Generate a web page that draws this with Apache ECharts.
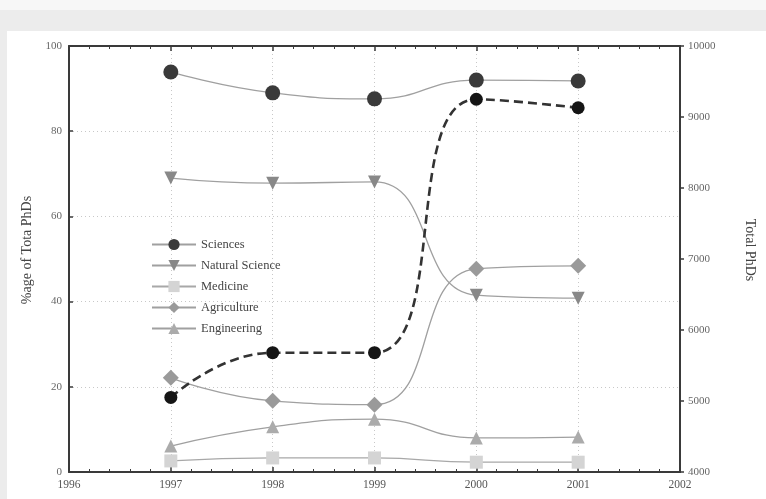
<!DOCTYPE html>
<html>
<head>
<meta charset="utf-8">
<script src="https://cdn.jsdelivr.net/npm/echarts@6/dist/echarts.min.js"></script>
<style>
html,body{margin:0;padding:0;background:#ececec;}
#chart{width:766px;height:499px;}
</style>
</head>
<body>
<div id="chart"></div>
<script>
var years = [1997, 1998, 1999, 2000, 2001];
var sciences = [93.9, 89.0, 87.6, 92.0, 91.8];
var naturalScience = [69.0, 67.8, 68.1, 41.5, 40.8];
var medicine = [2.6, 3.3, 3.3, 2.3, 2.3];
var agriculture = [22.1, 16.7, 15.8, 47.7, 48.4];
var engineering = [6.1, 10.6, 12.4, 8.0, 8.2];
var totalPhDs = [5050, 5680, 5680, 9250, 9130];
var xTicks = [1996, 1997, 1998, 1999, 2000, 2001, 2002];
var leftTicks = [0, 20, 40, 60, 80, 100];
var rightTicks = [4000, 5000, 6000, 7000, 8000, 9000, 10000];

function pairs(vals){ return years.map(function(y,i){ return [y, vals[i]]; }); }

var FONT = "'Liberation Serif','DejaVu Serif',serif";
var AXC = '#3a3a3a';
var chart = echarts.init(document.getElementById('chart'), null, {renderer:'canvas'});

var gridSplit = {show:true, lineStyle:{color:'#c8c8c8', type:[1,3], width:1}};
var plain = function(v){ return String(v); };

var option = {
  backgroundColor: '#ececec',
  animation: false,
  graphic: [
    {type:'rect', shape:{x:0,y:0,width:766,height:10}, style:{fill:'#f7f7f7'}, z:-10},
    {type:'rect', shape:{x:7,y:31,width:759,height:468}, style:{fill:'#ffffff'}, z:-10}
  ],
  grid: {left:69, right:86, top:46, bottom:27, containLabel:false},
  legend: {
    orient:'vertical', left:146, top:233, itemWidth:44, itemHeight:14, itemGap:8,
    data:['Sciences','Natural Science','Medicine','Agriculture','Engineering'],
    textStyle:{fontFamily:FONT, fontSize:12.5, color:'#444'}
  },
  xAxis: [
    {type:'value', min:xTicks[0], max:xTicks[xTicks.length-1], interval:1, position:'bottom',
     axisLine:{lineStyle:{color:AXC, width:2}},
     axisTick:{inside:true, length:5, lineStyle:{color:AXC, width:1.5}},
     minorTick:{show:true, splitNumber:5, length:3, lineStyle:{color:AXC}},
     axisLabel:{fontFamily:FONT, fontSize:11.5, color:'#555', margin:7, formatter:plain},
     splitLine:gridSplit},
    {type:'value', min:xTicks[0], max:xTicks[xTicks.length-1], interval:1, position:'top',
     axisLine:{lineStyle:{color:AXC, width:2}},
     axisTick:{inside:true, length:5, lineStyle:{color:AXC, width:1.5}},
     minorTick:{show:true, splitNumber:5, length:3, lineStyle:{color:AXC}},
     axisLabel:{show:false}, splitLine:{show:false}}
  ],
  yAxis: [
    {type:'value', min:leftTicks[0], max:leftTicks[leftTicks.length-1], interval:20, position:'left',
     name:'%age of Tota PhDs', nameLocation:'middle', nameGap:23,
     nameTextStyle:{fontFamily:FONT, fontSize:14, color:'#444', padding:[0,0,0,18]},
     axisLine:{lineStyle:{color:AXC, width:2}},
     axisTick:{inside:true, length:4, lineStyle:{color:AXC, width:1.5}},
     axisLabel:{fontFamily:FONT, fontSize:11, color:'#666', margin:7, formatter:plain},
     splitLine:gridSplit},
    {type:'value', min:rightTicks[0], max:rightTicks[rightTicks.length-1], interval:1000, position:'right',
     name:'Total PhDs', nameLocation:'middle', nameGap:63, nameRotate:-90,
     nameTextStyle:{fontFamily:FONT, fontSize:14, color:'#444', padding:[0,18,0,0]},
     axisLine:{lineStyle:{color:AXC, width:2}},
     axisTick:{inside:false, length:4, lineStyle:{color:AXC, width:1.5}},
     axisLabel:{fontFamily:FONT, fontSize:11, color:'#666', margin:8, formatter:plain},
     splitLine:{show:false}}
  ],
  series: [
    {name:'Sciences', type:'line', smooth:true, data:pairs(sciences),
     symbol:'circle', symbolSize:15, itemStyle:{color:'#3a3a3a'},
     lineStyle:{color:'#a0a0a0', width:1.3}, z:3},
    {name:'Natural Science', type:'line', smooth:true, data:pairs(naturalScience),
     symbol:'triangle', symbolRotate:180, symbolSize:13, itemStyle:{color:'#888888'},
     lineStyle:{color:'#a0a0a0', width:1.3}},
    {name:'Medicine', type:'line', smooth:true, data:pairs(medicine),
     symbol:'rect', symbolSize:13, itemStyle:{color:'#d4d4d4'},
     lineStyle:{color:'#a8a8a8', width:1.3}},
    {name:'Agriculture', type:'line', smooth:true, data:pairs(agriculture),
     symbol:'diamond', symbolSize:16, itemStyle:{color:'#9a9a9a'},
     lineStyle:{color:'#a0a0a0', width:1.3}},
    {name:'Engineering', type:'line', smooth:true, data:pairs(engineering),
     symbol:'triangle', symbolSize:13, itemStyle:{color:'#ababab'},
     lineStyle:{color:'#a0a0a0', width:1.3}},
    {name:'Total PhDs', type:'line', smooth:true, yAxisIndex:1, data:pairs(totalPhDs),
     symbol:'circle', symbolSize:13, itemStyle:{color:'#151515'},
     lineStyle:{color:'#333333', width:2.6, type:[9,5]}, z:4}
  ]
};
chart.setOption(option);
</script>
</body>
</html>
